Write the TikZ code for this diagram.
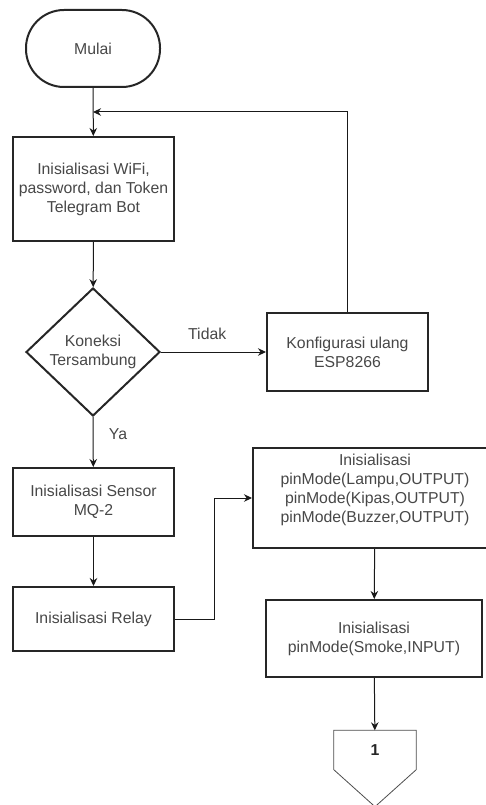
\documentclass[tikz,border=0pt]{standalone}
\usepackage{fontspec}
\setmainfont{Liberation Sans}
\usetikzlibrary{arrows.meta,shapes.geometric}
\begin{document}
\begin{tikzpicture}[x=1pt,y=-1pt,>={Stealth[length=8pt,width=7.5pt]},
    txt/.style={font=\fontsize{15.8}{19}\selectfont,text=black!72,align=center},
    box/.style={txt,draw=black!85,line width=2pt,inner sep=0pt},
    startbox/.style={box,rounded corners=38pt,minimum width=134pt,minimum height=77pt},
    procbox/.style={box,minimum width=161pt},
    decbox/.style={box,diamond,minimum width=134pt,minimum height=128pt},
    conbox/.style={txt,font=\fontsize{15.8}{19}\selectfont\bfseries,text=black!85,
      inner sep=0pt,minimum width=82pt,minimum height=39pt},
    line/.style={draw=black!90,line width=1pt}
  ]
  \useasboundingbox (0,0) rectangle (486,805);
  \clip (0,0) rectangle (486,805);

  \node[startbox] (mulai) at (93,48.5) {Mulai};
  \node[procbox,minimum height=104pt] (wifi) at (93.5,189)
    {Inisialisasi WiFi,\\password, dan Token\\Telegram Bot};
  \node[decbox] (koneksi) at (93,352) {Koneksi\\Tersambung};
  \node[procbox,minimum height=78pt] (konfig) at (347.5,352)
    {Konfigurasi ulang\\ESP8266};
  \node[procbox,minimum height=68pt] (sensor) at (93.5,502)
    {Inisialisasi Sensor\\MQ-2};
  \node[procbox,minimum height=64pt] (relay) at (93.5,619) {Inisialisasi Relay};
  \node[procbox,minimum width=244pt,minimum height=100pt] (pinout) at (375,498) {};
  \node[txt] (pintext) at (375,490)
    {Inisialisasi\\pinMode(Lampu,OUTPUT)\\ pinMode(Kipas,OUTPUT)\\pinMode(Buzzer,OUTPUT)};
  \node[procbox,minimum width=216pt,minimum height=77pt] (smoke) at (374,638.5)
    {Inisialisasi\\pinMode(Smoke,INPUT)};
  \node[conbox] (page1) at (375,750) {1};
  \draw[draw=black!70,line width=0.8pt] (page1.north west) -- (page1.north east)
    -- (page1.south east) -- ([yshift=-37pt]page1.south) -- (page1.south west) -- cycle;

  \coordinate (back) at (93,112);

  \draw[line,->] (mulai) -- (wifi);
  \draw[line,->] (wifi) -- (koneksi);
  \draw[line,->] (koneksi.east) -- (konfig.west)
    node[txt,pos=0.44,above=9pt] (tidak) {Tidak};
  \draw[line,->] (konfig.north) |- (back);
  \draw[line,->] (koneksi.south) -- (sensor)
    node[txt,pos=0.35,right=12pt] (ya) {Ya};
  \draw[line,->] (sensor) -- (relay);
  \draw[line,->] (relay.east) -- ++(39,0) |- (pinout.west);
  \draw[line,->] (pinout) -- (smoke);
  \draw[line,->] (smoke) -- (page1);
\end{tikzpicture}
\end{document}
